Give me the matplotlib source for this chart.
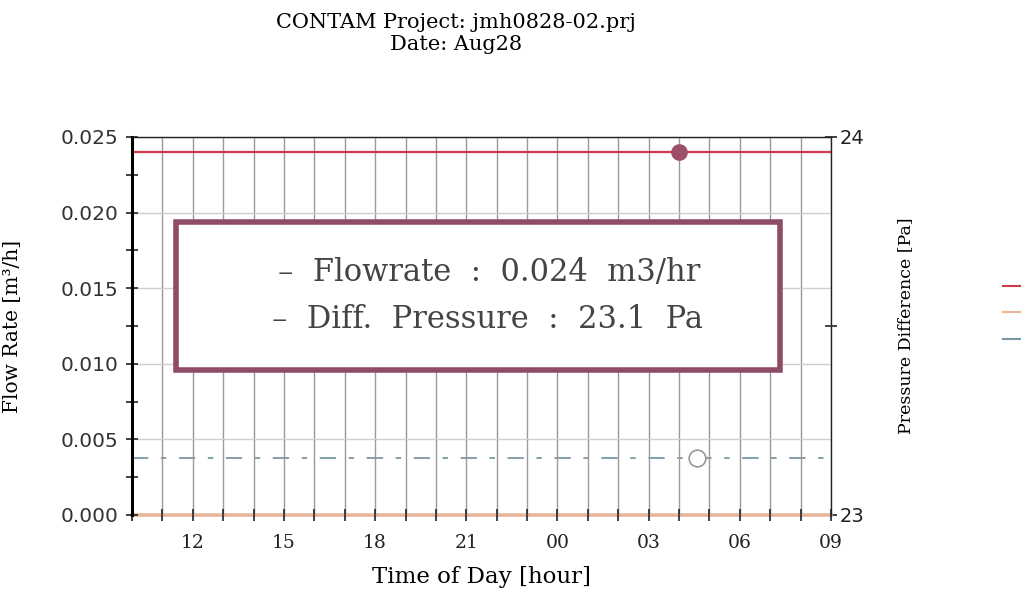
import matplotlib
matplotlib.use("Agg")
import matplotlib.pyplot as plt
from matplotlib.lines import Line2D
from matplotlib.patches import Rectangle

# ---- data ----
hours = [10, 11, 12, 13, 14, 15, 16, 17, 18, 19, 20, 21, 22, 23, 24, 25, 26, 27, 28, 29, 30, 31, 32, 33]
flowrate = [0.024] * 24           # m3/h, constant
zero_flow = [0.0] * 24            # orange series along 0
pressure = [23.15] * 24           # Pa, right axis
x_tick_pos = [12, 15, 18, 21, 24, 27, 30, 33]
x_tick_labels = ["12", "15", "18", "21", "00", "03", "06", "09"]
marker_flow = (28.0, 0.024)
marker_pres = (28.6, 23.15)
title_lines = ["CONTAM Project: jmh0828-02.prj", "Date: Aug28"]
box_lines = ["–  Flowrate  :  0.024  m3/hr", "–  Diff.  Pressure  :  23.1  Pa"]

serif = "DejaVu Serif"
W, H = 1021, 591
fig = plt.figure(figsize=(W / 100, H / 100), dpi=100)
ax = fig.add_axes([132 / W, 1 - 515 / H, 699 / W, 378 / H])
ax2 = ax.twinx()
ax.set_zorder(ax2.get_zorder() + 1)
ax.patch.set_visible(False)

red = "#cc3b4a"
orange = "#e9b596"
blue = "#7a96a6"
purple = "#8e4c66"

ax2.plot(hours, pressure, color=blue, lw=1.3, dashes=(9, 7, 3, 7), zorder=3)
ax2.plot([marker_pres[0]], [marker_pres[1]], "o", ms=12, mfc="white", mec="#999999", mew=1.2, zorder=5)
ax.plot(hours, flowrate, color=red, lw=1.6, zorder=3)
ax.plot(hours, zero_flow, color=orange, lw=2.6, zorder=2, clip_on=False)
ax.plot([marker_flow[0]], [marker_flow[1]], "o", ms=11, color="#9b4f6a", zorder=5)

ax.set_xlim(10, 33)
ax.set_ylim(0, 0.025)
ax2.set_ylim(23, 24)

ax.set_xticks(x_tick_pos)
ax.set_xticklabels(x_tick_labels, fontfamily=serif, fontsize=13.5, color="#222222")
ax.set_xticks(hours, minor=True)
ax.set_yticks([0, 0.005, 0.01, 0.015, 0.02, 0.025])
ax.set_yticklabels(["0.000", "0.005", "0.010", "0.015", "0.020", "0.025"], fontfamily="DejaVu Sans", fontsize=14.5, color="#333333")
ax.set_yticks([0.0025, 0.0075, 0.0125, 0.0175, 0.0225], minor=True)
ax.tick_params(axis="both", which="both", direction="inout", length=9, width=1.2, colors="#222222")
ax.tick_params(axis="y", labelcolor="#333333", pad=5)
ax.tick_params(axis="x", which="major", pad=9)

ax2.set_yticks([23, 24])
ax2.set_yticklabels(["23", "24"], fontfamily="DejaVu Sans", fontsize=14)
ax2.set_yticks([23.5], minor=True)
ax2.tick_params(axis="y", which="both", direction="inout", length=9, width=1.2, colors="#222222", pad=2)

ax.grid(True, axis="x", which="both", color="#9a9a9a", lw=1.0)
ax.grid(True, axis="y", which="major", color="#cfcfcf", lw=1.0)
ax.set_axisbelow(False)

for s in ["top", "right"]:
    ax.spines[s].set_linewidth(1.0)
    ax.spines[s].set_color("#222222")
ax.spines["left"].set_linewidth(2.2)
ax.spines["bottom"].set_visible(False)
for s in ax.spines.values():
    s.set_zorder(4)
for s in ax2.spines.values():
    s.set_visible(False)

ax.set_xlabel("Time of Day [hour]", fontfamily=serif, fontsize=16.5, labelpad=10)
ax.set_ylabel("Flow Rate [m³/h]", fontfamily=serif, fontsize=14.5)
ax.yaxis.set_label_coords(-(132 - 22) / 699, 0.5)
ax2.set_ylabel("Pressure Difference [Pa]", fontfamily=serif, fontsize=12.5)
ax2.yaxis.set_label_coords((897 - 132) / 699, 0.5)

# annotation box
rect = Rectangle((176 / W, 1 - 370 / H), (780 - 176) / W, (370 - 222) / H, transform=fig.transFigure,
                 fill=True, facecolor="white", edgecolor=purple, lw=4, zorder=6)
ax.add_patch(rect)
rect.set_clip_on(False)
fig.text(489 / W, 1 - 272 / H, box_lines[0], ha="center", va="center", fontfamily=serif, fontsize=22, color="#444444", zorder=7)
fig.text(487 / W, 1 - 320 / H, box_lines[1], ha="center", va="center", fontfamily=serif, fontsize=22, color="#444444", zorder=7)

# titles
fig.text(456 / W, 1 - 22 / H, title_lines[0], ha="center", va="center", fontfamily=serif, fontsize=15)
fig.text(456 / W, 1 - 45 / H, title_lines[1], ha="center", va="center", fontfamily=serif, fontsize=15)

# legend (cut off at right edge)
handles = [Line2D([], [], color=red, lw=1.5), Line2D([], [], color=orange, lw=1.5), Line2D([], [], color=blue, lw=1.5)]
fig.legend(handles, ["", "", ""], loc="upper left", bbox_to_anchor=(997 / W, 1 - 274 / H), frameon=False,
           handlelength=2.2, labelspacing=0.9, handletextpad=0.2, borderaxespad=0)

fig.savefig("out.png", dpi=100)
